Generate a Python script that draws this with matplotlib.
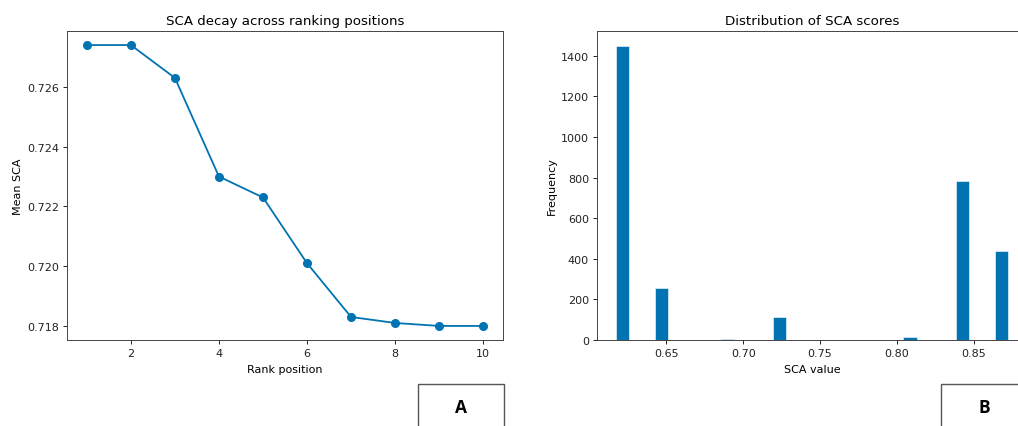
import matplotlib.pyplot as plt
import numpy as np

# mean SCA per rank position
rank_positions = [1, 2, 3, 4, 5, 6, 7, 8, 9, 10]
mean_sca = [0.7274, 0.7274, 0.7263, 0.7230, 0.7223, 0.7201, 0.7183, 0.7181, 0.7180, 0.7180]

# histogram of SCA scores: 30 bins between min and max score
sca_min = 0.6174
sca_max = 0.8722
n_bins = 30
bin_counts = [1450, 0, 0, 256, 0, 0, 0, 0, 3, 0,
              0, 0, 113, 0, 0, 0, 0, 0, 0, 0,
              0, 0, 16, 0, 0, 0, 784, 0, 0, 439]

blue = "#0173b2"
fs = 8
title_fs = 9.6

plt.rcParams["font.family"] = "DejaVu Sans"
plt.rcParams["axes.linewidth"] = 0.7
plt.rcParams["axes.edgecolor"] = "#444444"
plt.rcParams["xtick.major.size"] = 3
plt.rcParams["ytick.major.size"] = 3
plt.rcParams["xtick.major.width"] = 0.7
plt.rcParams["ytick.major.width"] = 0.7
plt.rcParams["xtick.color"] = "#222222"
plt.rcParams["ytick.color"] = "#222222"

W, H = 1018, 427
fig = plt.figure(figsize=(W / 100, H / 100), dpi=100)

def px_box(x0, y0, x1, y1):
    return [x0 / W, 1 - y1 / H, (x1 - x0) / W, (y1 - y0) / H]

# left panel: decay curve
ax1 = fig.add_axes(px_box(67, 32, 503, 341))
ax1.plot(rank_positions, mean_sca, color=blue, marker="o", markersize=5.5, linewidth=1.3)
ax1.set_title("SCA decay across ranking positions", fontsize=title_fs, pad=5)
ax1.set_xlabel("Rank position", fontsize=fs, labelpad=4.5)
ax1.set_ylabel("Mean SCA", fontsize=fs, labelpad=3)
ax1.set_xticks([2, 4, 6, 8, 10])
ax1.set_yticks([0.718, 0.720, 0.722, 0.724, 0.726])
ax1.tick_params(labelsize=fs, pad=2.5)

# right panel: histogram (runs past the figure edge)
edges = np.linspace(sca_min, sca_max, n_bins + 1)
centers = (edges[:-1] + edges[1:]) / 2
ax2 = fig.add_axes(px_box(596.7, 32, 1027.5, 341))
ax2.hist(centers, bins=edges, weights=bin_counts, color=blue, edgecolor="white", linewidth=0.4)
ax2.set_title("Distribution of SCA scores", fontsize=title_fs, pad=5)
ax2.set_xlabel("SCA value", fontsize=fs, labelpad=4.5)
ax2.set_ylabel("Frequency", fontsize=fs, labelpad=3)
ax2.set_xticks([0.65, 0.70, 0.75, 0.80, 0.85])
ax2.set_yticks([0, 200, 400, 600, 800, 1000, 1200, 1400])
ax2.tick_params(labelsize=fs, pad=2.5)

# panel tags
for x0, x1, tag in [(418, 504, "A"), (941, 1030, "B")]:
    fig.patches.append(plt.Rectangle((x0 / W, -0.05), (x1 - x0) / W, (H - 385) / H + 0.05,
                                     transform=fig.transFigure, fill=False,
                                     edgecolor="#555555", linewidth=1.0))
    fig.text((x0 + 43) / W, 1 - 408 / H, tag, fontsize=12.5, fontweight="bold",
             family="Open Sans", ha="center", va="center")

fig.savefig("out.png", dpi=100)
